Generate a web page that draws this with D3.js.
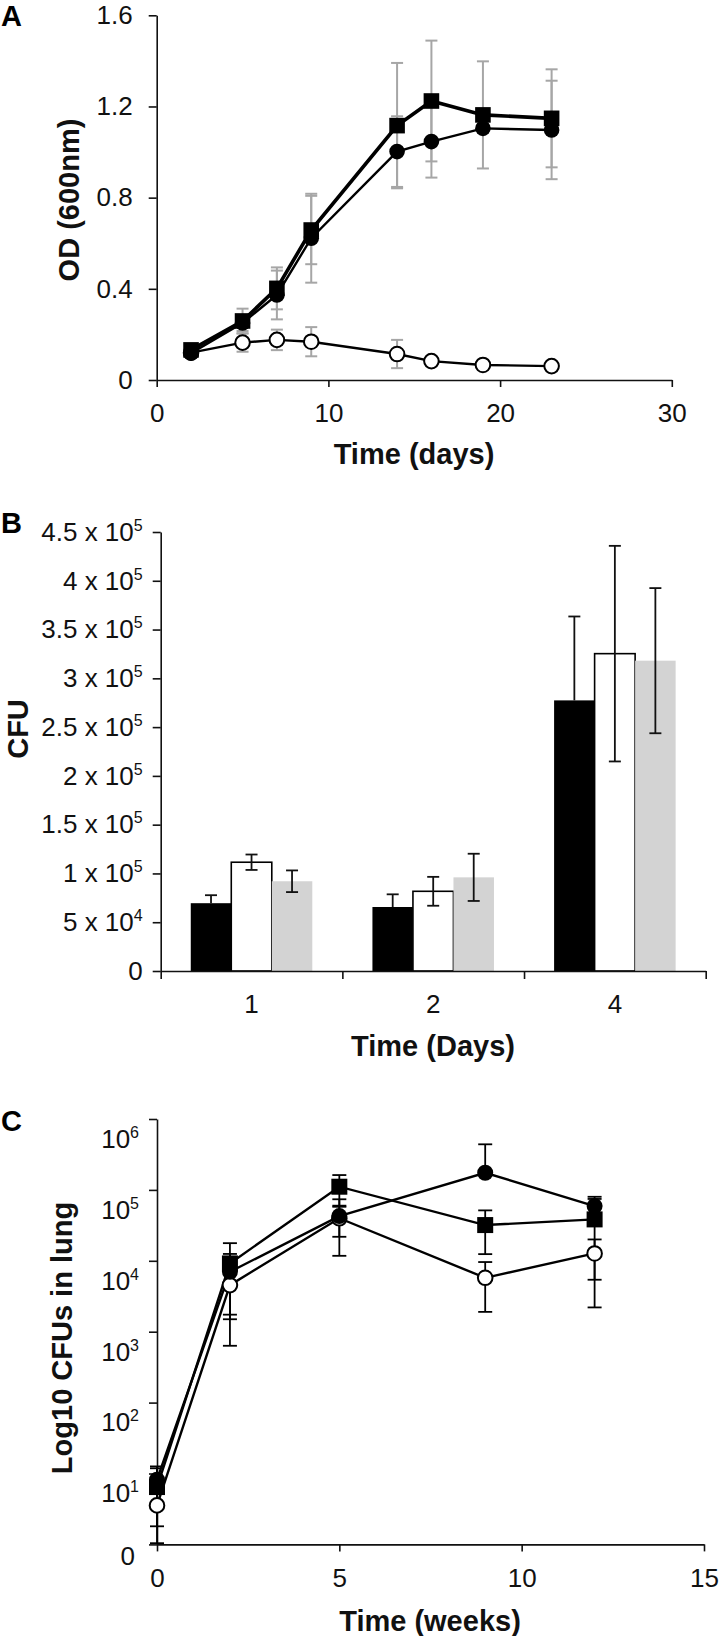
<!DOCTYPE html>
<html><head><meta charset="utf-8">
<script src="https://cdn.jsdelivr.net/npm/d3@7"></script>
<style>
body{margin:0;background:#fff;}
svg{display:block;}
.tick text{font-family:"Liberation Sans Narrow","Arial Narrow",sans-serif;font-size:26px;fill:#111;}
.domain,.tick line{stroke:#111;stroke-width:1.6;}
.title{font-family:"Liberation Sans",Arial,sans-serif;font-weight:bold;font-size:29px;fill:#111;}
.panel{font-family:"Liberation Sans",Arial,sans-serif;font-weight:bold;font-size:29px;fill:#000;}
</style></head><body>
<svg id="chart" width="720" height="1636"></svg>
<script>
// ---------- Panel A data ----------
const daysA = [2, 5, 7, 9, 14, 16, 19, 23];
const odSquare = [0.132, 0.259, 0.402, 0.658, 1.116, 1.224, 1.163, 1.148];
const odSquareErr = [0.01, 0.054, 0.092, 0.15, 0.275, 0.265, 0.235, 0.215];
const odCircle = [0.118, 0.25, 0.373, 0.622, 1.002, 1.046, 1.104, 1.097];
const odCircleErr = [0.01, 0.035, 0.107, 0.195, 0.155, 0.158, 0.02, 0.216];
const odOpen = [0.12, 0.164, 0.176, 0.168, 0.114, 0.083, 0.066, 0.061];
const odOpenErr = [0.01, 0.04, 0.045, 0.064, 0.062, 0.01, 0.01, 0.01];
const xTicksA = [0, 10, 20, 30];
const yTicksA = [0, 0.4, 0.8, 1.2, 1.6];

// ---------- Panel B data ----------
const daysB = ["1", "2", "4"];
const groupsB = ["black", "white", "gray"];
const cfuBlack = [69500, 65600, 277400];
const errBlack = [8200, 13000, 86000];
const cfuWhite = [111500, 81700, 325300];
const errWhite = [7900, 14800, 110500];
const cfuGray = [92000, 96000, 318100];
const errGray = [11100, 24200, 74400];
const yTicksB = [0, 5e4, 1e5, 1.5e5, 2e5, 2.5e5, 3e5, 3.5e5, 4e5, 4.5e5];

// ---------- Panel C data ----------
const weeksC = [0, 2, 5, 9, 12];
const lungSquare = [6.44, 9183, 110917, 31917, 38370];
const lungSquareErr = [5.4, 8550, 51000, 19500, 36170];
const lungCircle = [8.19, 6998, 42756, 174582, 59156];
const lungCircleErr = [4.4, 5500, 31000, 265000, 20800];
const lungOpen = [3.55, 4539, 39811, 5754, 12706];
const lungOpenErr = [1.75, 2800, 18000, 3850, 7300];
const xTicksC = [0, 5, 10, 15];
const yTicksC = [1, 10, 100, 1000, 10000, 100000, 1000000];

const svg = d3.select("#chart");

function supLabel(sel, base, sup) {
  sel.text(null);
  sel.append("tspan").text(base);
  if (sup !== null) sel.append("tspan").attr("font-size", "16px").attr("dy", "-10").text(sup);
}

// ================= Panel A =================
const xA = d3.scaleLinear().domain([0, 30]).range([156.7, 671.8]);
const yA = d3.scaleLinear().domain([0, 1.6]).range([380, 15.3]);
const gA = svg.append("g");
gA.append("g").attr("transform", `translate(0,${yA(0)})`)
  .call(d3.axisBottom(xA).tickValues(xTicksA).tickSize(7).tickSizeOuter(0).tickPadding(17).tickFormat(d3.format("d")));
gA.append("g").attr("transform", `translate(${xA(0)},0)`)
  .call(d3.axisLeft(yA).tickValues(yTicksA).tickSize(8).tickSizeOuter(0).tickPadding(16).tickFormat(d => d === 0 ? "0" : d3.format(".1f")(d)));

function errA(vals, errs, color) {
  const g = gA.append("g").attr("stroke", color).attr("stroke-width", 2).attr("fill", "none");
  daysA.forEach((d, i) => {
    const x = xA(d), y1 = yA(vals[i] + errs[i]), y2 = yA(vals[i] - errs[i]);
    g.append("line").attr("x1", x).attr("x2", x).attr("y1", y1).attr("y2", y2);
    g.append("line").attr("x1", x - 6).attr("x2", x + 6).attr("y1", y1).attr("y2", y1);
    g.append("line").attr("x1", x - 6).attr("x2", x + 6).attr("y1", y2).attr("y2", y2);
  });
}
errA(odOpen, odOpenErr, "#a6a6a6");
errA(odCircle, odCircleErr, "#a6a6a6");
errA(odSquare, odSquareErr, "#a6a6a6");

const lineA = vals => d3.line().x((d, i) => xA(daysA[i])).y(d => yA(d))(vals);
gA.append("path").attr("d", lineA(odOpen)).attr("fill", "none").attr("stroke", "#000").attr("stroke-width", 2.4);
gA.append("path").attr("d", lineA(odCircle)).attr("fill", "none").attr("stroke", "#000").attr("stroke-width", 2.4);
gA.append("path").attr("d", lineA(odSquare)).attr("fill", "none").attr("stroke", "#000").attr("stroke-width", 3.6);

gA.selectAll(".oc").data(odOpen).join("circle").attr("cx", (d, i) => xA(daysA[i])).attr("cy", d => yA(d)).attr("r", 7.3).attr("fill", "#fff").attr("stroke", "#000").attr("stroke-width", 2);
gA.selectAll(".fc").data(odCircle).join("circle").attr("cx", (d, i) => xA(daysA[i])).attr("cy", d => yA(d)).attr("r", 7.8).attr("fill", "#000");
gA.selectAll(".sq").data(odSquare).join("rect").attr("x", (d, i) => xA(daysA[i]) - 7.8).attr("y", d => yA(d) - 7.8).attr("width", 15.6).attr("height", 15.6).attr("fill", "#000");

gA.append("text").attr("class", "title").attr("x", 414).attr("y", 464).attr("text-anchor", "middle").text("Time (days)");
gA.append("text").attr("class", "title").attr("transform", "translate(79,200) rotate(-90)").attr("text-anchor", "middle").text("OD (600nm)");
gA.append("text").attr("class", "panel").attr("x", 1).attr("y", 26).text("A");

// ================= Panel B =================
const xB = d3.scaleBand().domain(daysB).range([160.7, 705.7]).paddingInner(0.331).paddingOuter(0.1655);
const xSub = d3.scaleBand().domain(groupsB).range([0, xB.bandwidth()]);
const yB = d3.scaleLinear().domain([0, 4.5e5]).range([971, 532]);
const xBline = d3.scaleLinear().domain([0, daysB.length]).range([160.7, 705.7]);
const gB = svg.append("g");

const seriesB = [
  {key: "black", vals: cfuBlack, errs: errBlack, fill: "#000", stroke: "none", upOnly: true},
  {key: "white", vals: cfuWhite, errs: errWhite, fill: "#fff", stroke: "#000", upOnly: false},
  {key: "gray", vals: cfuGray, errs: errGray, fill: "#d3d3d3", stroke: "none", upOnly: false}
];
seriesB.forEach(s => {
  gB.selectAll(".b-" + s.key).data(s.vals).join("rect")
    .attr("x", (d, i) => xB(daysB[i]) + xSub(s.key))
    .attr("y", d => yB(d))
    .attr("width", xSub.bandwidth())
    .attr("height", d => yB(0) - yB(d))
    .attr("fill", s.fill).attr("stroke", s.stroke).attr("stroke-width", 1.6);
});
seriesB.forEach(s => {
  const g = gB.append("g").attr("stroke", "#111").attr("stroke-width", 1.8);
  s.vals.forEach((v, i) => {
    const x = xB(daysB[i]) + xSub(s.key) + xSub.bandwidth() / 2;
    const y1 = yB(v + s.errs[i]), y2 = s.upOnly ? yB(v) : yB(v - s.errs[i]);
    g.append("line").attr("x1", x).attr("x2", x).attr("y1", y1).attr("y2", y2);
    g.append("line").attr("x1", x - 6).attr("x2", x + 6).attr("y1", y1).attr("y2", y1);
    if (!s.upOnly) g.append("line").attr("x1", x - 6).attr("x2", x + 6).attr("y1", y2).attr("y2", y2);
  });
});

gB.append("g").attr("transform", `translate(0,${yB(0)})`)
  .call(d3.axisBottom(xBline).tickValues(d3.range(daysB.length + 1)).tickSize(8).tickSizeOuter(0).tickFormat(""));
gB.append("g").attr("transform", `translate(0,${yB(0)})`)
  .call(d3.axisBottom(xB).tickSize(0).tickPadding(24))
  .call(g => g.select(".domain").remove());
const yAxB = gB.append("g").attr("transform", `translate(${xBline(0)},0)`)
  .call(d3.axisLeft(yB).tickValues(yTicksB).tickSize(8).tickSizeOuter(0).tickPadding(10));
yAxB.selectAll(".tick text").each(function (d) {
  const t = d3.select(this);
  if (d === 0) { supLabel(t, "0", null); return; }
  const e = Math.floor(Math.log10(d) + 1e-9);
  const m = +(d / Math.pow(10, e)).toFixed(2);
  supLabel(t, m + " x 10", String(e));
});
gB.append("text").attr("class", "title").attr("x", 433).attr("y", 1056).attr("text-anchor", "middle").text("Time (Days)");
gB.append("text").attr("class", "title").attr("transform", "translate(28,729) rotate(-90)").attr("text-anchor", "middle").text("CFU");
gB.append("text").attr("class", "panel").attr("x", 1).attr("y", 533).text("B");

// ================= Panel C =================
const xC = d3.scaleLinear().domain([0, 15]).range([157, 704]);
const yC = d3.scaleLog().domain([1, 1e6]).range([1544.4, 1119]);
const gC = svg.append("g");
gC.append("g").attr("transform", `translate(0,${yC(1)})`)
  .call(d3.axisBottom(xC).tickValues(xTicksC).tickSize(7).tickSizeOuter(0).tickPadding(17).tickFormat(d3.format("d")));
const yAxC = gC.append("g").attr("transform", `translate(${xC(0)},0)`)
  .call(d3.axisLeft(yC).tickValues(yTicksC).tickSize(8).tickSizeOuter(0).tickPadding(10));
yAxC.selectAll(".tick text").each(function (d) {
  const t = d3.select(this);
  if (d === 1) { supLabel(t, "0", null); t.attr("transform", "translate(-4,12)"); return; }
  supLabel(t, "10", String(Math.round(Math.log10(d))));
  t.attr("transform", "translate(0,20)");
});

const seriesC = [
  {vals: lungOpen, errs: lungOpenErr, type: "open"},
  {vals: lungCircle, errs: lungCircleErr, type: "circle"},
  {vals: lungSquare, errs: lungSquareErr, type: "square"}
];
const lineC = vals => d3.line().x((d, i) => xC(weeksC[i])).y(d => yC(d))(vals);
seriesC.forEach(s => {
  gC.append("path").attr("d", lineC(s.vals)).attr("fill", "none").attr("stroke", "#000").attr("stroke-width", 2.4);
});
seriesC.forEach(s => {
  const g = gC.append("g").attr("stroke", "#000").attr("stroke-width", 1.8);
  s.vals.forEach((v, i) => {
    const x = xC(weeksC[i]);
    const y1 = yC(v + s.errs[i]);
    const lo = v - s.errs[i];
    const y2 = lo > 1 ? yC(lo) : yC(v);
    g.append("line").attr("x1", x).attr("x2", x).attr("y1", y1).attr("y2", y2);
    g.append("line").attr("x1", x - 7).attr("x2", x + 7).attr("y1", y1).attr("y2", y1);
    if (lo > 1) g.append("line").attr("x1", x - 7).attr("x2", x + 7).attr("y1", y2).attr("y2", y2);
  });
});
seriesC.forEach(s => {
  if (s.type === "square") {
    gC.selectAll(".csq").data(s.vals).join("rect").attr("x", (d, i) => xC(weeksC[i]) - 8).attr("y", d => yC(d) - 8).attr("width", 16).attr("height", 16).attr("fill", "#000");
  } else if (s.type === "circle") {
    gC.selectAll(".cfc").data(s.vals).join("circle").attr("cx", (d, i) => xC(weeksC[i])).attr("cy", d => yC(d)).attr("r", 8).attr("fill", "#000");
  } else {
    gC.selectAll(".coc").data(s.vals).join("circle").attr("cx", (d, i) => xC(weeksC[i])).attr("cy", d => yC(d)).attr("r", 7.3).attr("fill", "#fff").attr("stroke", "#000").attr("stroke-width", 2);
  }
});
gC.append("text").attr("class", "title").attr("x", 430).attr("y", 1631).attr("text-anchor", "middle").text("Time (weeks)");
gC.append("text").attr("class", "title").attr("transform", "translate(72,1338) rotate(-90)").attr("text-anchor", "middle").text("Log10 CFUs in lung");
gC.append("text").attr("class", "panel").attr("x", 1).attr("y", 1131).text("C");
</script></body></html>
